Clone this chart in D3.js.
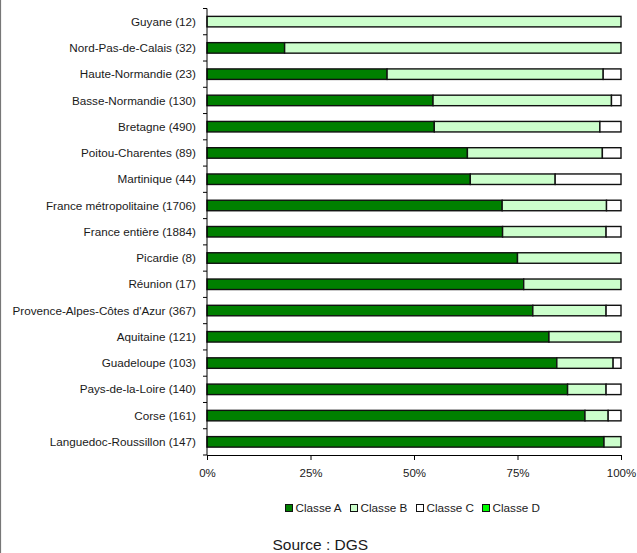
<!DOCTYPE html>
<html>
<head>
<meta charset="utf-8">
<script src="https://cdn.jsdelivr.net/npm/d3@7"></script>
<style>
  html, body { margin: 0; padding: 0; background: #fff; }
  svg { display: block; font-family: "Liberation Sans", Arial, Helvetica, sans-serif; }
</style>
</head>
<body>
<svg id="chart" width="637" height="553"></svg>
<script>
// Regions (with sample counts), top to bottom
const regions = [
  "Guyane (12)", "Nord-Pas-de-Calais (32)", "Haute-Normandie (23)", "Basse-Normandie (130)",
  "Bretagne (490)", "Poitou-Charentes (89)", "Martinique (44)", "France métropolitaine (1706)",
  "France entière (1884)", "Picardie (8)", "Réunion (17)", "Provence-Alpes-Côtes d'Azur (367)",
  "Aquitaine (121)", "Guadeloupe (103)", "Pays-de-la-Loire (140)", "Corse (161)",
  "Languedoc-Roussillon (147)"
];

// Share of each quality class, in percent
const classeA = [0, 18.75, 43.5, 54.6, 54.9, 62.9, 63.6, 71.3, 71.4, 75.0, 76.5, 78.7, 82.6, 84.5, 87.1, 91.3, 95.9];
const classeB = [100, 81.25, 52.2, 43.1, 40.0, 32.6, 20.5, 25.2, 25.0, 25.0, 23.5, 17.7, 17.4, 13.6, 9.3, 5.6, 4.1];
const classeC = [0, 0, 4.3, 2.3, 5.1, 4.5, 15.9, 3.5, 3.6, 0, 0, 3.6, 0, 1.9, 3.6, 3.1, 0];
const classeD = [0, 0, 0, 0, 0, 0, 0, 0, 0, 0, 0, 0, 0, 0, 0, 0, 0];

const seriesNames = ["Classe A", "Classe B", "Classe C", "Classe D"];
const seriesColors = ["#008000", "#ccffcc", "#ffffff", "#00ff00"];
const tickValues = [0, 25, 50, 75, 100];

const svg = d3.select("#chart");
const textColor = "#1a1a1a";

// frame edge on the left
svg.append("line")
  .attr("x1", 0.5).attr("x2", 0.5).attr("y1", 0).attr("y2", 553)
  .attr("stroke", "#777").attr("stroke-width", 1.2);

const x = d3.scaleLinear().domain([0, 100]).range([207, 621]);
const y = d3.scaleBand().domain(regions).range([8.5, 455]).paddingInner(0.6).paddingOuter(0.3);

// table of rows for stacking
const rows = regions.map((r, i) => ({
  region: r,
  "Classe A": classeA[i],
  "Classe B": classeB[i],
  "Classe C": classeC[i],
  "Classe D": classeD[i]
}));
const stacked = d3.stack().keys(seriesNames)(rows);

const gBars = svg.append("g");
stacked.forEach((layer, li) => {
  gBars.selectAll(null)
    .data(layer.filter(d => d[1] - d[0] > 0))
    .enter().append("rect")
    .attr("x", d => x(d[0]))
    .attr("width", d => x(d[1]) - x(d[0]))
    .attr("y", d => y(d.data.region))
    .attr("height", y.bandwidth())
    .attr("fill", seriesColors[li])
    .attr("stroke", "#111")
    .attr("stroke-width", 1.4);
});

// category axis: line with ticks at band boundaries
const gY = svg.append("g");
gY.append("line")
  .attr("x1", x(0)).attr("x2", x(0))
  .attr("y1", y.range()[0]).attr("y2", y.range()[1])
  .attr("stroke", "#000").attr("stroke-width", 1);
const boundaries = d3.range(regions.length + 1).map(i => y.range()[0] + i * y.step());
gY.selectAll(null).data(boundaries).enter().append("line")
  .attr("x1", x(0) - 4).attr("x2", x(0))
  .attr("y1", d => d).attr("y2", d => d)
  .attr("stroke", "#000").attr("stroke-width", 1);
gY.selectAll(null).data(regions).enter().append("text")
  .attr("x", 196)
  .attr("y", d => y(d) + y.bandwidth() / 2)
  .attr("dy", "0.35em")
  .attr("text-anchor", "end")
  .attr("font-size", "11.7px")
  .attr("fill", textColor)
  .text(d => d);

// percentage axis
const xAxis = d3.axisBottom(x)
  .tickValues(tickValues)
  .tickSize(5)
  .tickPadding(9)
  .tickFormat(d => d + "%");
const gX = svg.append("g")
  .attr("transform", `translate(0,${y.range()[1]})`)
  .call(xAxis);
gX.select(".domain").attr("stroke", "#000");
gX.selectAll(".tick line").attr("stroke", "#000");
gX.selectAll(".tick text")
  .attr("font-size", "11.5px")
  .attr("font-family", "\"Liberation Sans\", Arial, sans-serif")
  .attr("fill", textColor);

// legend
const legendX = [285, 350, 416, 482];
const legend = svg.append("g");
seriesNames.forEach((name, i) => {
  legend.append("rect")
    .attr("x", legendX[i] + 0.5).attr("y", 504.5)
    .attr("width", 7).attr("height", 7)
    .attr("fill", seriesColors[i])
    .attr("stroke", "#111").attr("stroke-width", 1);
  legend.append("text")
    .attr("x", legendX[i] + 10.5).attr("y", 508)
    .attr("dy", "0.35em")
    .attr("font-size", "11.7px")
    .attr("fill", textColor)
    .text(name);
});

// source note
svg.append("text")
  .attr("x", 272.5).attr("y", 549.5)
  .attr("font-size", "15.5px")
  .attr("fill", textColor)
  .text("Source : DGS");
</script>
</body>
</html>
